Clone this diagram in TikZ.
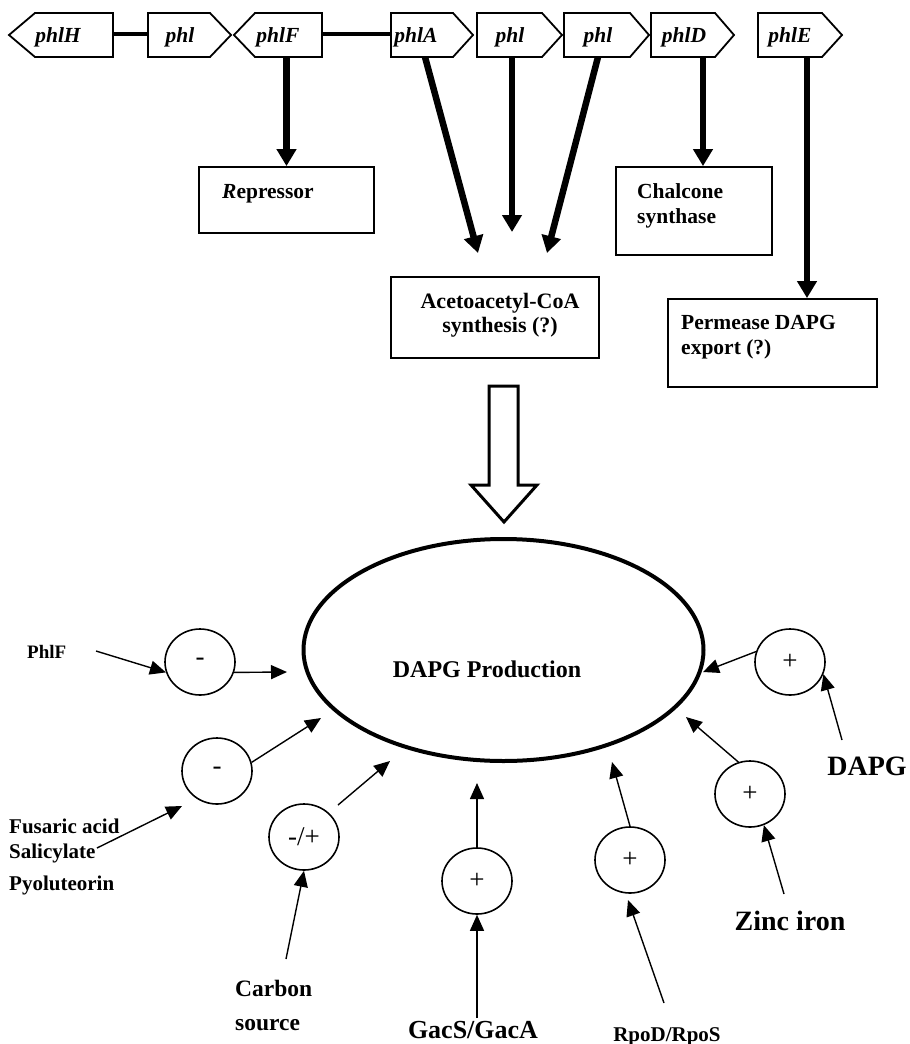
\documentclass[tikz,border=0pt]{standalone}
\usepackage{fontspec}
\setmainfont{Liberation Serif}
\usetikzlibrary{arrows.meta,shapes.geometric}
\begin{document}
\begin{tikzpicture}[x=1pt,y=-1pt,
  gene/.style={draw,line width=1.8pt,fill=white,line join=miter},
  link/.style={line width=3.2pt},
  genelbl/.style={font=\fontsize{21.5}{24}\selectfont\bfseries\itshape,anchor=base,inner sep=0},
  box/.style={draw,line width=1.8pt,rectangle,inner sep=0},
  boxtxt/.style={font=\fontsize{21.5}{24}\selectfont\bfseries,anchor=base west,inner sep=0},
  boxtxtc/.style={font=\fontsize{22}{24}\selectfont\bfseries,anchor=base,inner sep=0},
  bigarrow/.style={line width=6.5pt,-{Triangle[length=17pt,width=19pt]}},
  thinarrow/.style={line width=1.4pt,-{Triangle[length=16pt,width=14pt]}},
  sign/.style={draw,ellipse,line width=1.6pt,minimum width=70pt,minimum height=66pt,inner sep=0,font=\fontsize{27}{27}\selectfont},
  lbl/.style={font=\bfseries,anchor=base west,inner sep=0},
  lblc/.style={font=\bfseries,anchor=base,inner sep=0}
]
\useasboundingbox (0,0) rectangle (910,1044);

% gene links
\draw[link] (113,34) -- (148,34);
\draw[link] (322,34) -- (391,34);

% gene shapes
\draw[gene] (9,35) -- (35,13) -- (113,13) -- (113,57) -- (35,57) -- cycle;
\draw[gene] (148,13) -- (210,13) -- (231,35) -- (210,57) -- (148,57) -- cycle;
\draw[gene] (234,35) -- (255,13) -- (322,13) -- (322,57) -- (255,57) -- cycle;
\draw[gene] (391,13) -- (453,13) -- (473,35) -- (453,57) -- (391,57) -- cycle;
\draw[gene] (477,13) -- (542,13) -- (562,35) -- (542,57) -- (477,57) -- cycle;
\draw[gene] (564,13) -- (630,13) -- (649,35) -- (630,57) -- (564,57) -- cycle;
\draw[gene] (651,13) -- (715,13) -- (734,35) -- (715,57) -- (651,57) -- cycle;
\draw[gene] (758,13) -- (822,13) -- (842,35) -- (822,57) -- (758,57) -- cycle;

\node[genelbl] (lH) at (58,42) {phlH};
\node[genelbl] (l2) at (180,42) {phl};
\node[genelbl] (lF) at (278,42) {phlF};
\node[genelbl] (lA) at (416,42) {phlA};
\node[genelbl] (l4) at (510,42) {phl};
\node[genelbl] (l5) at (598,42) {phl};
\node[genelbl] (lD) at (684,42) {phlD};
\node[genelbl] (lE) at (790,42) {phlE};

\coordinate (gF) at (286.5,57);
\coordinate (gA) at (425,57);
\coordinate (g4) at (512,57);
\coordinate (g5) at (598,57);
\coordinate (gD) at (703,57);
\coordinate (gE) at (807,57);

% boxes
\node[box,minimum width=175pt,minimum height=66pt] (rep) at (286.5,200) {};
\node[boxtxt] (reptxt) at (222,198) {{\itshape R}epressor};
\node[box,minimum width=208pt,minimum height=81pt] (aceto) at (495,317.5) {};
\node[boxtxtc] (acetotxt1) at (500,308) {Acetoacetyl-CoA};
\node[boxtxtc] (acetotxt2) at (500,332) {synthesis (?)};
\node[box,minimum width=156pt,minimum height=88pt] (chal) at (694,211) {};
\node[boxtxt] (chaltxt1) at (637,198) {Chalcone};
\node[boxtxt] (chaltxt2) at (637,223) {synthase};
\node[box,minimum width=209pt,minimum height=88pt] (perm) at (772.5,343) {};
\node[boxtxt] (permtxt1) at (681,329) {Permease DAPG};
\node[boxtxt] (permtxt2) at (681,354) {export (?)};

% thick arrows
\coordinate (tA) at (478,253);
\coordinate (t4a) at (512,232);
\coordinate (t5a) at (547,253);
\draw[bigarrow] (gF) -- (rep.north);
\draw[bigarrow] (gA) -- (tA);
\draw[bigarrow] (g4) -- (t4a);
\draw[bigarrow] (g5) -- (t5a);
\draw[bigarrow] (gD) -- (gD |- chal.north);
\draw[bigarrow] (gE) -- (gE |- perm.north);

% hollow arrow
\draw[line width=3pt,line join=miter] (489,386) -- (518,386) -- (518,485) -- (537,485) -- (504,522) -- (471,485) -- (489,485) -- cycle;

% production ellipse
\node[draw,ellipse,line width=4pt,minimum width=400pt,minimum height=222pt,inner sep=0] (prod) at (503.5,650) {};
\node[font=\fontsize{24}{26}\selectfont\bfseries,anchor=base,inner sep=0] (prodtxt) at (487,677) {DAPG Production};

% sign circles
\node[sign] (c1) at (200,662) {-};
\node[sign] (c2) at (217,771) {-};
\node[sign] (c3) at (304,837) {-/+};
\node[sign] (c4) at (477,881) {+};
\node[sign] (c5) at (630,860) {+};
\node[sign] (c6) at (750,794) {+};
\node[sign] (c7) at (790,662) {+};

% labels
\node[lbl,font=\fontsize{19}{21}\selectfont\bfseries] (phlf) at (27,658) {PhlF};
\node[lbl,font=\fontsize{21}{23}\selectfont\bfseries] (fus) at (9,833) {Fusaric acid};
\node[lbl,font=\fontsize{21}{23}\selectfont\bfseries] (sal) at (9,858) {Salicylate};
\node[lbl,font=\fontsize{21}{23}\selectfont\bfseries] (pyo) at (9,890) {Pyoluteorin};
\node[lbl,font=\fontsize{23.5}{26}\selectfont\bfseries] (carb) at (235,996) {Carbon};
\node[lbl,font=\fontsize{23.5}{26}\selectfont\bfseries] (src) at (235,1030) {source};
\node[lblc,font=\fontsize{26}{28}\selectfont\bfseries] (gac) at (473,1038) {GacS/GacA};
\node[lblc,font=\fontsize{21}{23}\selectfont\bfseries] (rpo) at (667,1041) {RpoD/RpoS};
\node[lblc,font=\fontsize{28}{30}\selectfont\bfseries] (zinc) at (790,930) {Zinc iron};
\node[lblc,font=\fontsize{28}{30}\selectfont\bfseries] (dapg) at (867,775) {DAPG};

% free ends
\coordinate (s1) at (96,651);
\coordinate (t1) at (287,672);
\coordinate (s2) at (97,848);
\coordinate (i2) at (182,806);
\coordinate (t2) at (321,718);
\coordinate (s3) at (286,959);
\coordinate (u3) at (338,805);
\coordinate (t3) at (390,761);
\coordinate (s4) at (477,1018);
\coordinate (t4) at (477,783);
\coordinate (s5) at (664,1003);
\coordinate (i5) at (628,900);
\coordinate (t5) at (612,762);
\coordinate (s6) at (784,894);
\coordinate (t6) at (686,717);
\coordinate (s7) at (842,740);
\coordinate (t7) at (703,672);

% thin arrows
\draw[thinarrow] (s1) -- (c1.197);
\draw[thinarrow] (c1.343) -- (t1);
\draw[thinarrow] (s2) -- (i2);
\draw[thinarrow] (c2.14) -- (t2);
\draw[thinarrow] (s3) -- (c3.south);
\draw[thinarrow] (u3) -- (t3);
\draw[thinarrow] (s4) -- (c4.south);
\draw[thinarrow] (c4.north) -- (t4);
\draw[thinarrow] (s5) -- (i5);
\draw[thinarrow] (c5.north) -- (t5);
\draw[thinarrow] (s6) -- (c6.294);
\draw[thinarrow] (c6.110) -- (t6);
\draw[thinarrow] (s7) -- (c7.340);
\draw[thinarrow] (c7.163) -- (t7);
\end{tikzpicture}
\end{document}
